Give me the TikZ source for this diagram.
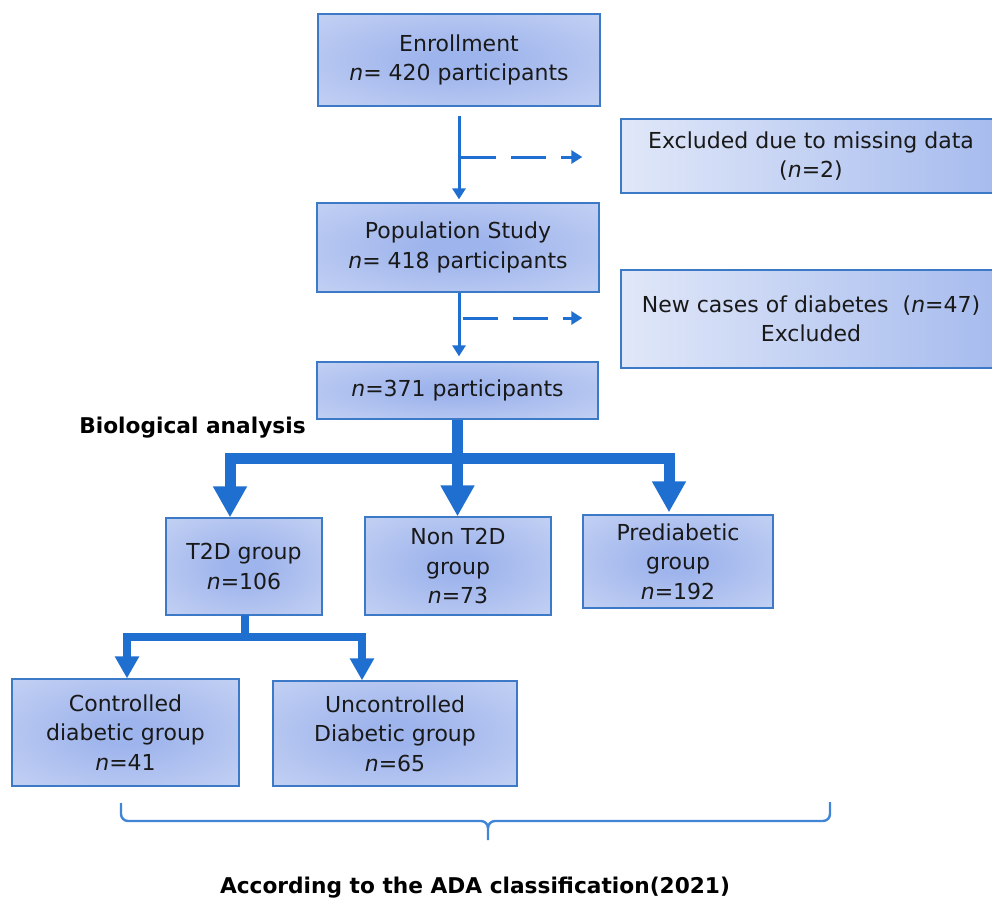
\documentclass[tikz,border=0pt]{standalone}
\usepackage{fontspec}
\setmainfont{DejaVu Sans}
\usetikzlibrary{arrows.meta}
\definecolor{lnblue}{RGB}{31,111,208}
\definecolor{bdblue}{RGB}{60,122,200}
\definecolor{bxin}{RGB}{158,180,236}
\definecolor{bxout}{RGB}{220,228,248}
\definecolor{sdleft}{RGB}{224,231,248}
\definecolor{sdright}{RGB}{166,187,238}
\pgfdeclareradialshading{boxshade}{\pgfpoint{0bp}{0bp}}{color(0bp)=(bxin); color(6bp)=(bxin); color(56bp)=(bxout); color(75bp)=(bxout)}
\tikzset{
  box/.style={draw=bdblue, line width=1.3pt, shading=boxshade, align=center, inner sep=0pt,
    font=\fontsize{22}{29.5}\selectfont, text=black!90},
  sidebox/.style={box, shading=axis, left color=sdleft, right color=sdright},
  thin/.style={draw=lnblue, line width=3pt, -{Triangle[width=13pt,length=11pt]}},
  dsh/.style={thin, dash pattern=on 35pt off 15pt},
  thkA/.style={draw=lnblue, line width=11pt, line join=miter},
  tipA/.style={{Triangle[width=32pt,length=31pt]}-{Triangle[width=32pt,length=31pt]}},
  thkB/.style={draw=lnblue, line width=8pt, line join=miter},
  tipB/.style={{Triangle[width=23pt,length=22pt]}-{Triangle[width=23pt,length=22pt]}},
  brace/.style={draw=lnblue!85!white, line width=2.4pt, line join=round},
  bold/.style={font=\fontsize{21.7}{26}\selectfont\bfseries, inner sep=0pt, text=black}
}
\begin{document}
\begin{tikzpicture}[x=1pt,y=1pt]
\clip (0,0) rectangle (992,-900);
\fill[white] (0,0) rectangle (992,-900);

% boxes
\node[box, minimum width=282pt, minimum height=92pt] (enr) at (459,-60) {Enrollment\\\textit{n}= 420 participants};
\node[sidebox, minimum width=380pt, minimum height=74pt] (excl) at (811,-156) {Excluded due to missing data\\(\textit{n}=2)};
\node[box, minimum width=282pt, minimum height=89pt] (pop) at (458,-247.5) {Population Study\\\textit{n}= 418 participants};
\node[sidebox, minimum width=380pt, minimum height=98pt] (newc) at (811,-319) {New cases of diabetes\ \ (\textit{n}=47)\\Excluded};
\node[box, minimum width=281pt, minimum height=57pt] (n371) at (457.5,-390.5) {\textit{n}=371 participants};
\node[box, minimum width=156pt, minimum height=97pt] (t2d) at (244,-566.5) {T2D group\\\textit{n}=106};
\node[box, minimum width=186pt, minimum height=98pt] (nont2d) at (458,-566) {Non T2D\\group\\\textit{n}=73};
\node[box, minimum width=190pt, minimum height=93pt] (pre) at (678,-561.5) {Prediabetic\\group\\\textit{n}=192};
\node[box, minimum width=227pt, minimum height=107pt] (ctrl) at (125.5,-732.5) {Controlled\\diabetic group\\\textit{n}=41};
\node[box, minimum width=244pt, minimum height=105pt] (unc) at (395,-733.5) {Uncontrolled\\Diabetic group\\\textit{n}=65};

% labels
\node[bold, anchor=base] (bio) at (192.5,-433) {Biological analysis};
\node[bold, anchor=base] (ada) at (475,-893) {According to the ADA classification(2021)};

% thin connectors
\draw[thin, shorten <=9pt, shorten >=3pt] (enr.south -| 459,0) -- (pop.north -| 459,0);
\coordinate (d1) at (461,-157);
\draw[dsh] (d1) -- ([xshift=-38pt]d1 -| excl.west);
\draw[thin, shorten >=5pt] (pop.south -| 459,0) -- (n371.north -| 459,0);
\coordinate (d2) at (463,-318);
\draw[dsh] (d2) -- ([xshift=-38pt]d2 -| newc.west);

% thick connectors level 1
\coordinate (bar) at (457.5,-458);
\draw[thkA, tipA] ([xshift=-14pt]t2d.north) |- (bar) -| ([xshift=-9pt,yshift=2pt]pre.north);
\draw[thkA, -{Triangle[width=32pt,length=31pt]}] (n371.south) -- (n371.south |- nont2d.north);

% thick connectors level 2
\coordinate (bar2) at (245,-637);
\draw[thkB, tipB] (ctrl.north -| 127,0) |- (bar2) -| ([xshift=-33pt]unc.north);
\draw[thkB] ([yshift=0.6pt]t2d.south -| 245,0) -- ([yshift=-3pt]bar2);

% brace
\draw[brace] (121,-803) -- (121,-814) to[out=-90,in=180] (128,-821) -- (481,-821)
  to[out=0,in=90] (488,-828) -- (488,-840);
\draw[brace] (488,-828) to[out=90,in=180] (495,-821) -- (823,-821)
  to[out=0,in=-90] (830,-814) -- (830,-802);
\end{tikzpicture}
\end{document}
